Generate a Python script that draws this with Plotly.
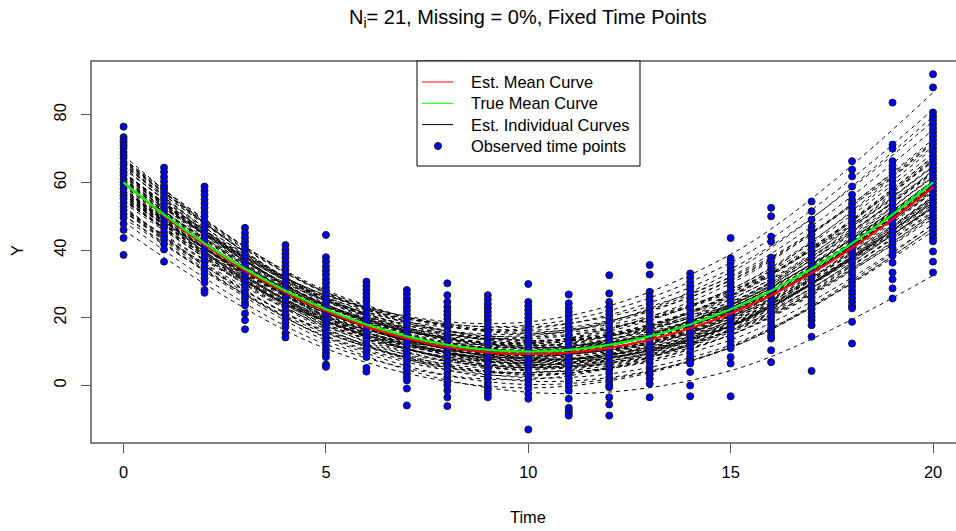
import plotly.graph_objects as go

# ---- data -----------------------------------------------------------------
times = list(range(21))

# observed responses at each fixed time point
obs_t0 = [76.5, 73.4, 72.6, 71.9, 71.0, 70.2, 69.0, 68.1, 67.3, 66.0, 65.2, 64.1, 63.0, 62.2, 61.0,
          60.1, 59.3, 58.2, 57.0, 56.1, 55.2, 54.0, 52.9, 51.8, 50.6, 49.6, 47.8, 46.0, 43.6, 38.6]
obs_t1 = [64.4, 63.1, 61.6, 60.3, 59.0, 58.1, 57.0, 55.8, 54.9, 53.7, 52.6, 51.5, 50.4, 49.6, 48.5,
          47.4, 46.6, 45.3, 44.2, 43.1, 41.8, 40.2, 36.6]
obs_t2 = [58.8, 57.6, 56.3, 55.0, 53.8, 52.5, 51.1, 49.9, 48.6, 47.5, 46.2, 45.0, 43.9, 42.7, 41.5,
          40.2, 39.1, 37.8, 36.6, 35.4, 34.1, 33.0, 31.7, 30.4, 28.2, 27.4]
obs_t3 = [46.6, 45.1, 43.7, 42.5, 41.2, 40.1, 38.8, 37.6, 36.5, 35.3, 34.0, 32.8, 31.7, 30.5, 29.4,
          28.1, 27.0, 25.8, 24.5, 23.7, 21.3, 19.3, 16.6]
obs_t4 = [41.5, 40.1, 39.0, 37.8, 36.5, 35.3, 34.2, 33.0, 31.8, 30.5, 29.4, 28.2, 27.1, 25.9, 24.6,
          23.5, 22.3, 21.0, 19.8, 18.6, 17.3, 15.4, 14.2]
obs_t5 = [44.5, 37.9, 36.6, 35.2, 34.0, 32.8, 31.5, 30.3, 29.0, 27.9, 26.6, 25.3, 24.2, 23.0, 21.8,
          20.5, 19.3, 18.1, 16.9, 15.6, 14.4, 13.2, 11.9, 10.7, 9.5, 8.4, 6.2, 5.5]
obs_t6 = [30.7, 29.5, 28.3, 27.2, 26.0, 24.9, 23.6, 22.5, 21.3, 20.2, 19.0, 17.8, 16.7, 15.5, 14.3,
          13.2, 12.0, 10.9, 9.7, 8.4, 5.2, 4.1]
obs_t7 = [28.2, 27.0, 25.7, 24.6, 23.3, 22.2, 21.0, 19.8, 18.7, 17.5, 16.3, 15.2, 14.0, 12.8, 11.7,
          10.5, 9.3, 8.2, 7.0, 5.8, 4.7, 3.5, 2.4, 1.5, -0.9, -5.9]
obs_t8 = [30.2, 26.7, 24.7, 23.2, 22.0, 20.9, 19.7, 18.6, 17.4, 16.2, 15.1, 13.9, 12.8, 11.6, 10.5,
          9.3, 8.1, 7.0, 5.8, 4.7, 3.5, 2.4, 1.2, 0.1, -1.5, -3.5, -6.1]
obs_t9 = [26.7, 25.4, 24.1, 22.9, 21.8, 20.6, 19.4, 18.3, 17.1, 16.0, 14.8, 13.6, 12.5, 11.3, 10.2,
          9.0, 7.9, 6.7, 5.5, 4.4, 3.2, 2.1, 0.9, -0.2, -1.4, -2.5, -3.5]
obs_t10 = [30.0, 24.7, 23.5, 22.3, 21.2, 20.0, 18.9, 17.7, 16.5, 15.4, 14.2, 13.1, 11.9, 10.7, 9.6,
           8.4, 7.3, 6.1, 4.9, 3.8, 2.6, 1.5, 0.3, -0.9, -2.5, -3.9, -13.0]
obs_t11 = [26.9, 24.3, 23.0, 21.8, 20.7, 19.5, 18.4, 17.2, 16.0, 14.9, 13.7, 12.6, 11.4, 10.2, 9.1,
           7.9, 6.8, 5.6, 4.4, 3.3, 2.1, 1.0, -0.2, -1.5, -3.9, -6.6, -7.4, -8.2, -8.9]
obs_t12 = [32.6, 27.2, 24.7, 23.3, 22.1, 21.0, 19.8, 18.6, 17.5, 16.3, 15.2, 14.0, 12.8, 11.7, 10.5,
           9.4, 8.2, 7.0, 5.9, 4.7, 3.6, 2.4, 1.2, 0.1, -0.5, -3.5, -5.6, -8.9]
obs_t13 = [35.6, 32.8, 27.7, 26.4, 25.2, 24.1, 22.9, 21.7, 20.6, 19.4, 18.3, 17.1, 15.9, 14.8, 13.6,
           12.5, 11.3, 10.1, 9.0, 7.8, 6.7, 5.5, 4.3, 3.2, 2.0, 0.5, -3.5]
obs_t14 = [33.1, 31.9, 30.6, 29.4, 28.3, 27.1, 25.9, 24.8, 23.6, 22.5, 21.3, 20.1, 19.0, 17.8, 16.7,
           15.5, 14.3, 13.2, 12.0, 10.9, 9.7, 8.5, 7.4, 6.5, 4.0, 0.0, -3.2]
obs_t15 = [43.6, 37.6, 36.4, 35.1, 33.9, 32.8, 31.6, 30.4, 29.3, 28.1, 27.0, 25.8, 24.6, 23.5, 22.3,
           21.2, 20.0, 18.8, 17.7, 16.5, 15.4, 14.2, 13.0, 11.9, 11.0, 8.4, 6.5, -3.2]
obs_t16 = [52.5, 50.0, 44.0, 42.5, 37.8, 36.6, 35.4, 34.3, 33.1, 32.0, 30.8, 29.6, 28.5, 27.3, 26.2,
           25.0, 23.8, 22.7, 21.5, 20.4, 19.2, 18.0, 16.9, 15.7, 14.6, 13.9, 10.4, 6.9]
obs_t17 = [54.4, 51.5, 49.0, 47.0, 45.8, 44.6, 43.5, 42.3, 41.1, 40.0, 38.8, 37.7, 36.5, 35.3, 34.2,
           33.0, 31.9, 30.7, 29.5, 28.4, 27.2, 26.1, 24.9, 23.7, 22.6, 21.4, 20.3, 19.3, 17.8, 14.4, 4.3]
obs_t18 = [66.3, 63.8, 61.8, 58.8, 56.4, 54.9, 53.7, 52.5, 51.3, 50.2, 49.0, 47.9, 46.7, 45.5, 44.4,
           43.2, 42.1, 40.9, 39.7, 38.6, 37.4, 36.3, 35.1, 33.9, 32.8, 31.6, 30.5, 29.3, 28.1, 27.0,
           25.8, 24.7, 23.5, 22.8, 18.8, 12.4]
obs_t19 = [83.6, 71.2, 70.0, 66.3, 65.1, 63.9, 62.8, 61.6, 60.5, 59.3, 58.1, 57.0, 55.8, 54.7, 53.5,
           52.3, 51.2, 50.0, 48.9, 47.7, 46.5, 45.4, 44.2, 43.1, 41.9, 40.7, 39.6, 38.4, 36.3, 33.4,
           31.4, 28.7, 25.7]
obs_t20 = [92.0, 88.1, 80.7, 79.5, 78.4, 77.2, 76.0, 74.9, 73.7, 72.6, 71.4, 70.2, 69.1, 67.9, 66.8,
           65.6, 64.4, 63.3, 62.1, 61.0, 59.8, 58.6, 57.5, 56.3, 55.2, 54.0, 52.8, 51.7, 50.5, 49.4,
           48.2, 47.0, 45.9, 44.7, 43.6, 42.6, 39.6, 36.6, 33.4]

observed_columns = [obs_t0, obs_t1, obs_t2, obs_t3, obs_t4, obs_t5, obs_t6, obs_t7, obs_t8, obs_t9,
                    obs_t10, obs_t11, obs_t12, obs_t13, obs_t14, obs_t15, obs_t16, obs_t17, obs_t18,
                    obs_t19, obs_t20]

# mean curves evaluated at the fixed time points
true_mean = [60.0, 50.5, 42.0, 34.5, 28.0, 22.5, 18.0, 14.5, 12.0, 10.5, 10.0,
             10.5, 12.0, 14.5, 18.0, 22.5, 28.0, 34.5, 42.0, 50.5, 60.0]
est_mean = [60.0, 50.3, 41.6, 34.0, 27.5, 22.0, 17.4, 13.9, 11.3, 9.8, 9.3,
            9.7, 11.1, 13.5, 16.9, 21.3, 26.7, 33.2, 40.7, 49.2, 58.6]

# estimated individual curves, one value per subject at each knot time
curve_knots = [0, 5, 10, 15, 20]
curve_y_t0 = [62.6, 50.3, 61.0, 57.5, 65.0, 57.0, 66.5, 56.5, 57.0, 64.5, 54.0, 60.5, 60.0, 51.5,
              63.0, 58.5, 58.0, 49.5, 61.0, 58.0, 55.0, 58.0, 65.0, 55.5, 62.5, 62.5, 52.0, 66.5,
              56.5, 59.0, 57.5, 68.0, 55.5, 55.0, 51.5, 59.0, 61.8, 67.0, 52.5, 51.5, 60.0, 65.8,
              53.0, 55.2, 66.8, 52.2, 60.5, 48.5, 67.0, 46.0, 61.0, 59.5, 57.0,
              63.0, 57.5, 63.0, 56.0, 60.0, 60.0, 59.5, 61.5, 62.0, 56.5, 56.5, 64.5, 64.0, 50.5,
              62.0, 59.5, 56.0, 65.5, 66.0, 52.0, 63.0, 58.0, 59.5, 56.0, 54.5, 65.5, 55.0]
curve_y_t5 = [26.75, 13.3, 24.9, 23.65, 25.15, 21.4, 25.65, 21.4, 20.65, 23.4, 18.9, 22.15, 20.65,
              17.65, 21.9, 18.9, 19.4, 15.4, 20.15, 17.65, 16.65, 16.9, 27.65, 22.9, 25.65, 23.9,
              19.15, 25.4, 19.65, 21.4, 19.9, 24.15, 18.15, 18.65, 16.15, 19.15, 23.95, 27.65, 15.9,
              14.4, 26.65, 27.2, 14.15, 18.85, 24.95, 19.85, 26.65, 12.15, 27.4, 10.9, 26.0, 25.15,
              22.15,
              23.9, 20.9, 24.9, 19.15, 23.4, 20.4, 21.8, 22.15, 25.4, 18.15, 21.4, 22.4, 26.15, 14.65,
              23.65, 23.9, 18.9, 22.65, 28.15, 15.65, 23.4, 21.4, 23.15, 19.9, 20.3, 25.9, 17.4]
curve_y_t10 = [18.8, -2.0, 15.3, 13.8, 12.3, 11.3, 10.8, 9.8, 9.3, 8.8, 8.3, 7.8, 7.3, 6.8, 6.3, 5.8,
               5.3, 4.8, 4.3, 3.3, 2.3, 1.3, 16.3, 14.8, 12.8, 11.8, 10.3, 9.8, 8.8, 8.3, 7.8, 7.3,
               6.8, 6.3, 5.8, 5.3, 11.1, 13.3, 3.8, 2.8, 17.3, 12.1, 0.3, 9.5, 8.1, 12.5, 15.8, 1.8,
               13.3, -0.7, 17.8, 16.8, 14.3,
               10.3, 8.8, 11.3, 7.3, 12.3, 6.3, 9.8, 7.8, 13.3, 4.8, 10.8, 6.8, 14.3, 3.8,
               9.3, 11.8, 8.3, 5.8, 15.3, 3.3, 10.3, 8.8, 12.8, 7.3, 9.8, 11.3, 5.3]
curve_y_t15 = [38.75, 4.4, 32.2, 27.95, 26.45, 26.7, 21.95, 21.7, 22.95, 20.7, 22.2, 17.45, 19.95,
               18.95, 16.2, 19.2, 15.7, 17.7, 13.45, 14.95, 11.95, 11.2, 30.95, 31.2, 23.95, 26.2,
               25.45, 19.7, 23.95, 19.7, 21.2, 17.45, 21.45, 17.95, 20.45, 17.45, 23.25, 23.95, 16.2,
               16.7, 31.95, 20.5, 11.45, 27.15, 16.25, 30.15, 27.95, 17.45, 24.7, 11.2, 36.3, 34.45,
               33.45,
               22.2, 21.2, 22.2, 20.45, 26.7, 17.7, 23.6, 18.45, 25.7, 16.45, 24.7, 17.7, 28.45, 17.95,
               18.95, 23.2, 24.2, 14.95, 27.45, 14.95, 23.7, 20.2, 28.45, 18.2, 23.1, 21.7, 18.7]
curve_y_t20 = [86.6, 32.5, 75.6, 66.1, 67.6, 67.6, 59.1, 57.1, 61.6, 59.1, 60.6, 51.1, 58.6, 54.1,
               51.6, 59.1, 50.6, 54.1, 47.6, 52.6, 45.6, 46.6, 71.6, 72.1, 59.1, 67.1, 64.6, 55.1,
               65.1, 55.6, 60.1, 54.6, 62.1, 53.6, 60.1, 55.6, 60.4, 59.6, 53.1, 56.1, 70.6, 52.4,
               47.6, 71.8, 49.4, 72.8, 63.1, 59.1, 61.6, 46.6, 81.6, 78.1, 79.6,
               59.6, 58.1, 57.6, 58.6, 66.6, 54.6, 63.1, 54.1, 62.6, 53.1, 63.1, 55.1, 68.6, 57.1,
               52.6, 58.1, 66.6, 50.1, 64.6, 50.6, 63.6, 55.6, 70.1, 52.6, 60.1, 57.1, 57.6]

x_ticks = [0, 5, 10, 15, 20]
y_ticks = [0, 20, 40, 60, 80]
legend_labels = ["Est. Mean Curve", "True Mean Curve", "Est. Individual Curves", "Observed time points"]

# ---- page geometry (pixels) -----------------------------------------------
W, H = 956, 531
PL, PR, PT, PB = 91, 0, 61, 88
PW, PH = W - PL - PR, H - PT - PB
FONT = "Liberation Sans, Arial, sans-serif"
BOX = "#555555"


def px(x):
    return (x - PL) / PW


def py(y):
    return (H - PB - y) / PH


fig = go.Figure()

# individual curves: one dashed line per subject, gaps between subjects
cx, cy = [], []
for vals in zip(curve_y_t0, curve_y_t5, curve_y_t10, curve_y_t15, curve_y_t20):
    cx += curve_knots + [None]
    cy += list(vals) + [None]
fig.add_trace(go.Scatter(x=cx, y=cy, mode="lines", line_shape="spline",
                         line=dict(color="black", width=1, dash="4px,4px"),
                         hoverinfo="skip", showlegend=False))

# observed points
ox, oy = [], []
for t, col in zip(times, observed_columns):
    ox += [t] * len(col)
    oy += col
fig.add_trace(go.Scatter(x=ox, y=oy, mode="markers",
                         marker=dict(size=7, color="#0000FF", line=dict(color="#1a1a1a", width=1)),
                         showlegend=False))

fig.add_trace(go.Scatter(x=times, y=est_mean, mode="lines", line_shape="spline",
                         line=dict(color="#FF0000", width=2.2), showlegend=False))
fig.add_trace(go.Scatter(x=times, y=true_mean, mode="lines", line_shape="spline",
                         line=dict(color="#00FF00", width=2.2), showlegend=False))

# plot frame (right edge runs past the page)
shapes = [dict(type="rect", xref="paper", yref="paper", x0=0, x1=1.05, y0=0, y1=1,
               line=dict(color=BOX, width=1.5), layer="above")]

# legend box
shapes.append(dict(type="rect", xref="paper", yref="paper",
                   x0=px(417), x1=px(640), y0=py(166), y1=py(61),
                   line=dict(color="black", width=1), fillcolor="white", layer="above"))
legend_rows = [82, 103.3, 124.6, 146]
legend_colors = ["#FF0000", "#00FF00", "black"]
for yy, c in zip(legend_rows[:3], legend_colors):
    shapes.append(dict(type="line", xref="paper", yref="paper",
                       x0=px(422), x1=px(453), y0=py(yy), y1=py(yy),
                       line=dict(color=c, width=1), layer="above"))
r = 3.5
shapes.append(dict(type="circle", xref="paper", yref="paper",
                   x0=px(438 - r), x1=px(438 + r), y0=py(146 + r), y1=py(146 - r),
                   fillcolor="#0000FF", line=dict(color="#1a1a1a", width=1), layer="above"))

annotations = []
for yy, lab in zip(legend_rows, legend_labels):
    annotations.append(dict(xref="paper", yref="paper", x=px(469), y=py(yy), text=lab,
                            showarrow=False, xanchor="left", yanchor="middle",
                            font=dict(family=FONT, size=16.4, color="black")))

annotations.append(dict(xref="paper", yref="paper", x=px(528), y=py(517), text="Time",
                        showarrow=False, xanchor="center", yanchor="middle",
                        font=dict(family=FONT, size=16.4, color="black")))
annotations.append(dict(xref="paper", yref="paper", x=px(17), y=py(251), text="Y",
                        showarrow=False, xanchor="center", yanchor="middle", textangle=-90,
                        font=dict(family=FONT, size=16.4, color="black")))
annotations.append(dict(xref="paper", yref="paper", x=px(528), y=py(18),
                        text="N<sub>i</sub>= 21, Missing = 0%, Fixed Time Points",
                        showarrow=False, xanchor="center", yanchor="middle",
                        font=dict(family=FONT, size=20, color="black")))

fig.update_layout(
    width=W, height=H,
    margin=dict(l=PL, r=PR, t=PT, b=PB, pad=0),
    paper_bgcolor="white", plot_bgcolor="white",
    showlegend=False,
    shapes=shapes,
    annotations=annotations,
    font=dict(family=FONT, size=16.4, color="black"),
)
fig.update_xaxes(range=[-0.805, 20.568], tickvals=x_ticks, ticktext=[str(v) for v in x_ticks],
                 ticks="outside", ticklen=9, tickcolor=BOX, tickwidth=1,
                 showgrid=False, zeroline=False, showline=False,
                 tickfont=dict(family=FONT, size=16.4, color="black"), ticklabelstandoff=5)
fig.update_yaxes(range=[-17.0, 95.9], tickvals=y_ticks, ticktext=[str(v) for v in y_ticks],
                 ticks="outside", ticklen=9, tickcolor=BOX, tickwidth=1, tickangle=-90,
                 showgrid=False, zeroline=False, showline=False,
                 tickfont=dict(family=FONT, size=16.4, color="black"), ticklabelstandoff=8)

fig.write_html("out.html")
